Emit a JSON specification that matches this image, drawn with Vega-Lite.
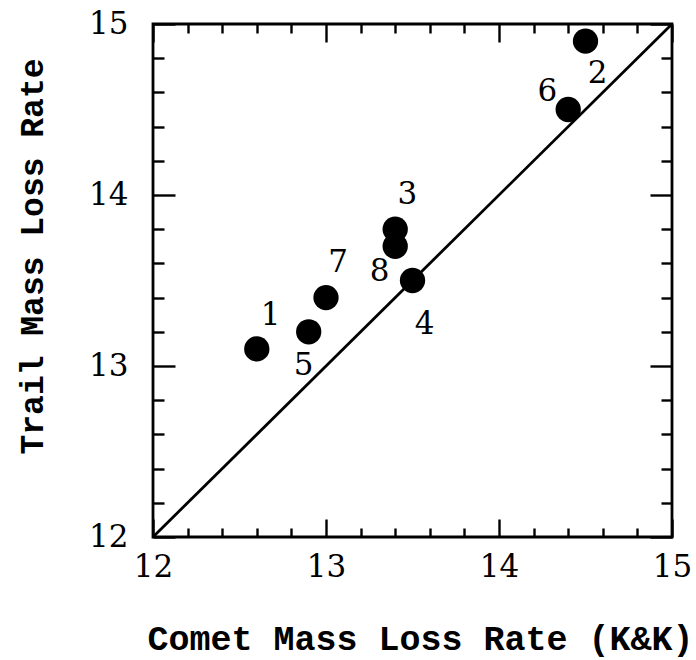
{
  "$schema": "https://vega.github.io/schema/vega-lite/v6.json",
  "width": 519,
  "height": 513,
  "autosize": "none",
  "padding": {"left": 153, "top": 24, "right": 24, "bottom": 123},
  "background": "white",
  "config": {
    "view": {"stroke": "black", "strokeWidth": 2.8},
    "axis": {
      "domain": false,
      "grid": false,
      "tickColor": "black",
      "tickWidth": 2.4,
      "labelColor": "black",
      "labelFont": "DejaVu Serif",
      "labelFontSize": 31,
      "titleColor": "black",
      "titleFont": "Liberation Mono",
      "titleFontWeight": "bold",
      "labelExpr": "abs(datum.value - round(datum.value)) < 0.01 ? format(datum.value, 'd') : ''",
      "values": [12, 12.2, 12.4, 12.6, 12.8, 13, 13.2, 13.4, 13.6, 13.8, 14, 14.2, 14.4, 14.6, 14.8, 15],
      "labelFlush": false,
      "labelOverlap": false
    }
  },
  "datasets": {
    "points": [
      {"id": "1", "comet": 12.6, "trail": 13.1, "lx": 12.68, "ly": 13.29},
      {"id": "2", "comet": 14.5, "trail": 14.9, "lx": 14.57, "ly": 14.71},
      {"id": "3", "comet": 13.4, "trail": 13.8, "lx": 13.47, "ly": 14.0},
      {"id": "4", "comet": 13.5, "trail": 13.5, "lx": 13.57, "ly": 13.24},
      {"id": "5", "comet": 12.9, "trail": 13.2, "lx": 12.87, "ly": 13.0},
      {"id": "6", "comet": 14.4, "trail": 14.5, "lx": 14.28, "ly": 14.6},
      {"id": "7", "comet": 13.0, "trail": 13.4, "lx": 13.07, "ly": 13.6},
      {"id": "8", "comet": 13.4, "trail": 13.7, "lx": 13.31, "ly": 13.55}
    ],
    "diag": [{"v": 12}, {"v": 15}]
  },
  "layer": [
    {
      "data": {"name": "diag"},
      "mark": {"type": "line", "color": "black", "strokeWidth": 2.8},
      "encoding": {
        "x": {
          "field": "v", "type": "quantitative",
          "scale": {"domain": [12, 15], "nice": false, "zero": false},
          "axis": {
            "orient": "bottom",
            "title": "Comet Mass Loss Rate (K&K)",
            "titleFontSize": 35,
            "titleBaseline": "alphabetic",
            "titleX": 267,
            "titleY": 112,
            "tickSize": {"condition": {"test": "abs(datum.value - round(datum.value)) < 0.01", "value": -18}, "value": -9},
            "labelPadding": 33
          }
        },
        "y": {
          "field": "v", "type": "quantitative",
          "scale": {"domain": [12, 15], "nice": false, "zero": false},
          "axis": {
            "orient": "left",
            "title": "Trail Mass Loss Rate",
            "titleFontSize": 33,
            "titleBaseline": "alphabetic",
            "titleAngle": -90,
            "titleX": -111,
            "titleY": 232,
            "tickSize": {"condition": {"test": "abs(datum.value - round(datum.value)) < 0.01", "value": -22}, "value": -11},
            "labelPadding": 47
          }
        }
      }
    },
    {
      "data": {"name": "points"},
      "mark": {"type": "circle", "size": 640, "opacity": 1, "color": "black"},
      "encoding": {
        "x": {
          "field": "comet", "type": "quantitative",
          "scale": {"domain": [12, 15], "nice": false, "zero": false},
          "axis": {
            "orient": "top", "title": null, "labels": false,
            "tickSize": {"condition": {"test": "abs(datum.value - round(datum.value)) < 0.01", "value": -18}, "value": -9}
          }
        },
        "y": {
          "field": "trail", "type": "quantitative",
          "scale": {"domain": [12, 15], "nice": false, "zero": false},
          "axis": {
            "orient": "right", "title": null, "labels": false,
            "tickSize": {"condition": {"test": "abs(datum.value - round(datum.value)) < 0.01", "value": -22}, "value": -11}
          }
        }
      }
    },
    {
      "data": {"name": "points"},
      "mark": {"type": "text", "font": "DejaVu Serif", "fontSize": 31, "color": "black", "align": "center", "baseline": "middle"},
      "encoding": {
        "x": {"field": "lx", "type": "quantitative", "scale": {"domain": [12, 15], "nice": false, "zero": false}, "axis": null},
        "y": {"field": "ly", "type": "quantitative", "scale": {"domain": [12, 15], "nice": false, "zero": false}, "axis": null},
        "text": {"field": "id"}
      }
    }
  ],
  "resolve": {"axis": {"x": "independent", "y": "independent"}}
}
